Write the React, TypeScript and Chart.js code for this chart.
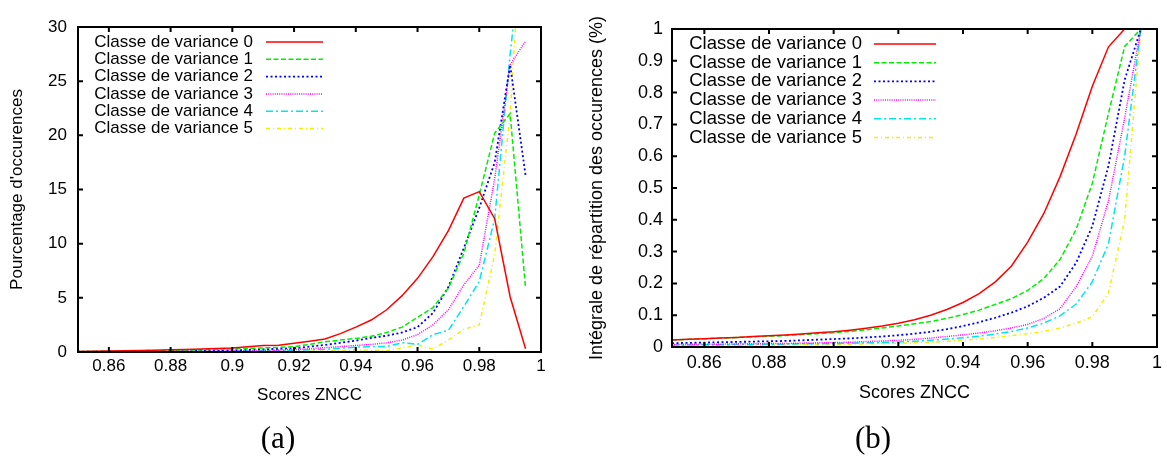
import React, { useEffect, useRef } from 'react';
import { Chart, registerables } from 'chart.js';

Chart.register(...registerables);

// ---------- data ----------
const binsZncc = [
  0.85, 0.855, 0.86, 0.865, 0.87, 0.875, 0.88, 0.885, 0.89, 0.895,
  0.9, 0.905, 0.91, 0.915, 0.92, 0.925, 0.93, 0.935, 0.94, 0.945,
  0.95, 0.955, 0.96, 0.965, 0.97, 0.975, 0.98, 0.985, 0.99, 0.995,
];

const seriesLabels = [
  'Classe de variance 0',
  'Classe de variance 1',
  'Classe de variance 2',
  'Classe de variance 3',
  'Classe de variance 4',
  'Classe de variance 5',
];

// (a) Pourcentage d'occurences
const histClass0 = [0.05, 0.07, 0.1, 0.12, 0.14, 0.17, 0.2, 0.23, 0.27, 0.32, 0.38, 0.48, 0.6, 0.63, 0.8, 1.0, 1.2, 1.7, 2.3, 2.95, 3.9, 5.2, 6.8, 8.8, 11.2, 14.2, 14.8, 12.3, 5.1, 0.3];
const histClass1 = [0.05, 0.06, 0.08, 0.1, 0.12, 0.14, 0.16, 0.18, 0.2, 0.25, 0.3, 0.33, 0.38, 0.42, 0.5, 0.7, 0.95, 1.1, 1.25, 1.45, 1.8, 2.3, 3.2, 4.1, 5.9, 9.1, 14.5, 20.2, 22.0, 5.9];
const histClass2 = [0.03, 0.04, 0.04, 0.05, 0.05, 0.06, 0.07, 0.08, 0.1, 0.12, 0.15, 0.2, 0.25, 0.3, 0.35, 0.5, 0.65, 0.85, 1.05, 1.3, 1.5, 1.8, 2.3, 3.6, 6.0, 9.6, 13.3, 17.5, 26.5, 16.3];
const histClass3 = [0.02, 0.02, 0.03, 0.03, 0.04, 0.04, 0.05, 0.06, 0.07, 0.08, 0.1, 0.12, 0.15, 0.18, 0.22, 0.3, 0.4, 0.5, 0.6, 0.7, 0.85, 1.1, 1.6, 2.5, 3.9, 6.2, 8.0, 16.0, 26.5, 28.7];
const histClass4 = [0.01, 0.01, 0.02, 0.02, 0.02, 0.03, 0.03, 0.04, 0.05, 0.05, 0.06, 0.08, 0.1, 0.12, 0.15, 0.2, 0.25, 0.35, 0.45, 0.5, 0.5, 0.85, 0.7, 1.6, 2.0, 4.2, 6.5, 12.3, 27.5, 40.0];
const histClass5 = [0.0, 0.0, 0.01, 0.01, 0.01, 0.01, 0.01, 0.02, 0.02, 0.02, 0.02, 0.03, 0.04, 0.05, 0.06, 0.08, 0.1, 0.12, 0.2, 0.15, 0.12, 0.4, 0.65, 0.28, 1.1, 2.1, 2.5, 9.0, 22.0, 45.0];

// (b) Intégrale de répartition des occurences
const cumClass0 = [0.022, 0.024, 0.026, 0.028, 0.03, 0.033, 0.035, 0.038, 0.041, 0.045, 0.048, 0.053, 0.059, 0.066, 0.075, 0.086, 0.1, 0.118, 0.14, 0.168, 0.205, 0.255, 0.33, 0.42, 0.535, 0.67, 0.82, 0.944, 1.0, 1.0];
const cumClass1 = [0.022, 0.024, 0.026, 0.028, 0.03, 0.032, 0.034, 0.036, 0.039, 0.042, 0.045, 0.049, 0.054, 0.06, 0.066, 0.073, 0.08, 0.09, 0.102, 0.116, 0.134, 0.152, 0.178, 0.215, 0.275, 0.37, 0.515, 0.735, 0.945, 1.0];
const cumClass2 = [0.012, 0.013, 0.014, 0.015, 0.016, 0.017, 0.018, 0.019, 0.021, 0.023, 0.025, 0.027, 0.03, 0.033, 0.037, 0.042, 0.048, 0.056, 0.066, 0.078, 0.092, 0.108, 0.128, 0.155, 0.19, 0.265, 0.38, 0.57, 0.84, 1.0];
const cumClass3 = [0.008, 0.008, 0.009, 0.009, 0.01, 0.01, 0.011, 0.011, 0.012, 0.013, 0.014, 0.015, 0.017, 0.019, 0.021, 0.024, 0.028, 0.033, 0.038, 0.044, 0.051, 0.06, 0.071, 0.09, 0.12, 0.19, 0.285, 0.46, 0.72, 1.0];
const cumClass4 = [0.006, 0.006, 0.007, 0.007, 0.008, 0.008, 0.009, 0.009, 0.01, 0.01, 0.011, 0.012, 0.013, 0.014, 0.016, 0.018, 0.021, 0.025, 0.029, 0.034, 0.041, 0.049, 0.06, 0.075, 0.098, 0.135, 0.205, 0.325, 0.6, 1.0];
const cumClass5 = [0.003, 0.003, 0.004, 0.004, 0.005, 0.005, 0.006, 0.006, 0.007, 0.007, 0.008, 0.009, 0.01, 0.011, 0.012, 0.013, 0.015, 0.018, 0.021, 0.025, 0.03, 0.036, 0.042, 0.049, 0.06, 0.075, 0.095, 0.17, 0.4, 1.0];

const xTicks = [0.86, 0.88, 0.9, 0.92, 0.94, 0.96, 0.98, 1];
const yTicksA = [0, 5, 10, 15, 20, 25, 30];
const yTicksB = [0, 0.1, 0.2, 0.3, 0.4, 0.5, 0.6, 0.7, 0.8, 0.9, 1];

const xAxisTitle = 'Scores ZNCC';
const yAxisTitleA = "Pourcentage d'occurences";
const yAxisTitleB = 'Intégrale de répartition des occurences (%)';

// ---------- styles ----------
const seriesColors = ['#ff0000', '#00ee00', '#0000ff', '#ff00ff', '#00e5ee', '#f0f000'];
const seriesDashes = [[], [5, 2.5], [2, 2.5], [1, 1.2], [7, 3, 2, 3], [4, 3, 1, 3]];
const seriesWidths = [1.5, 1.5, 1.8, 1.5, 1.5, 1.5];
const SANS = "'Liberation Sans', Arial, Helvetica, sans-serif";

const fmt = (v: number) => String(parseFloat(v.toFixed(3)));

const gnuFrame = {
  id: 'gnuFrame',
  afterDatasetsDraw(chart: any, _args: any, opts: any) {
    const { ctx, chartArea: a, scales } = chart;
    ctx.save();
    ctx.strokeStyle = '#000';
    ctx.lineWidth = 2;
    ctx.setLineDash([]);
    ctx.strokeRect(a.left, a.top, a.right - a.left, a.bottom - a.top);
    const tl = opts.tickLen;
    ctx.beginPath();
    scales.x.ticks.forEach((t: any) => {
      const px = scales.x.getPixelForValue(t.value);
      if (px <= a.left + 1 || px >= a.right - 1) return;
      ctx.moveTo(px, a.bottom);
      ctx.lineTo(px, a.bottom - tl);
      ctx.moveTo(px, a.top);
      ctx.lineTo(px, a.top + tl);
    });
    scales.y.ticks.forEach((t: any) => {
      const py = scales.y.getPixelForValue(t.value);
      if (py <= a.top + 1 || py >= a.bottom - 1) return;
      ctx.moveTo(a.left, py);
      ctx.lineTo(a.left + tl, py);
      ctx.moveTo(a.right, py);
      ctx.lineTo(a.right - tl, py);
    });
    ctx.stroke();

    // key (legend) inside the plot, text then line sample
    ctx.font = `${opts.keyFont}px ${SANS}`;
    ctx.textAlign = 'right';
    ctx.textBaseline = 'middle';
    chart.data.datasets.forEach((ds: any, i: number) => {
      const y = a.top + opts.keyTop + i * opts.keyRow;
      ctx.fillStyle = '#000';
      ctx.fillText(ds.label, a.left + opts.keyTextRight, y);
      ctx.strokeStyle = ds.borderColor;
      ctx.lineWidth = ds.borderWidth;
      ctx.setLineDash(ds.borderDash || []);
      ctx.beginPath();
      ctx.moveTo(a.left + opts.keyLine0, y);
      ctx.lineTo(a.left + opts.keyLine1, y);
      ctx.stroke();
    });
    ctx.restore();
  },
};

type Spec = {
  series: number[][];
  yMax: number;
  yTicks: number[];
  yTitle: string;
  font: number;
  padding: { left: number; top: number; right: number; bottom: number };
  yWidth: number;
  xHeight: number;
  xTickPad: number;
  yTickPad: number;
  yTitlePad: number;
  key: any;
};

function buildConfig(spec: Spec): any {
  return {
    type: 'line',
    data: {
      datasets: spec.series.map((vals, i) => ({
        label: seriesLabels[i],
        data: binsZncc.map((x, j) => ({ x, y: vals[j] })),
        borderColor: seriesColors[i],
        borderDash: seriesDashes[i],
        borderWidth: seriesWidths[i],
        pointRadius: 0,
        fill: false,
        tension: 0,
      })),
    },
    options: {
      responsive: false,
      animation: false,
      maintainAspectRatio: false,
      layout: { padding: spec.padding },
      plugins: {
        legend: { display: false },
        tooltip: { enabled: false },
        gnuFrame: { tickLen: 5, ...spec.key },
      },
      scales: {
        x: {
          type: 'linear',
          min: 0.85,
          max: 1,
          grid: { display: false, drawTicks: false },
          border: { display: false },
          afterBuildTicks: (s: any) => {
            s.ticks = xTicks.map((v) => ({ value: v }));
          },
          afterFit: (s: any) => {
            s.height = spec.xHeight;
          },
          ticks: {
            color: '#000',
            font: { family: SANS, size: spec.font },
            padding: spec.xTickPad,
            maxRotation: 0,
            autoSkip: false,
            callback: (v: any) => fmt(Number(v)),
          },
          title: {
            display: true,
            text: xAxisTitle,
            color: '#000',
            font: { family: SANS, size: spec.font },
            padding: { top: 0, bottom: 0 },
          },
        },
        y: {
          type: 'linear',
          min: 0,
          max: spec.yMax,
          grid: { display: false, drawTicks: false },
          border: { display: false },
          afterBuildTicks: (s: any) => {
            s.ticks = spec.yTicks.map((v) => ({ value: v }));
          },
          afterFit: (s: any) => {
            s.width = spec.yWidth;
          },
          ticks: {
            color: '#000',
            font: { family: SANS, size: spec.font },
            padding: spec.yTickPad,
            autoSkip: false,
            callback: (v: any) => fmt(Number(v)),
          },
          title: {
            display: true,
            text: spec.yTitle,
            color: '#000',
            font: { family: SANS, size: spec.font },
            padding: { top: spec.yTitlePad, bottom: 0 },
          },
        },
      },
    },
    plugins: [gnuFrame],
  };
}

function GnuChart({ spec, width, height, left }: { spec: Spec; width: number; height: number; left: number }) {
  const ref = useRef<HTMLCanvasElement | null>(null);
  useEffect(() => {
    if (!ref.current) return;
    const chart = new Chart(ref.current, buildConfig(spec));
    return () => chart.destroy();
  }, []);
  return (
    <canvas
      ref={ref}
      width={width}
      height={height}
      style={{ position: 'absolute', left, top: 0, width, height, display: 'block' }}
    />
  );
}

const specA: Spec = {
  series: [histClass0, histClass1, histClass2, histClass3, histClass4, histClass5],
  yMax: 30,
  yTicks: yTicksA,
  yTitle: yAxisTitleA,
  font: 17,
  padding: { left: 0, top: 27, right: 42, bottom: 14 },
  yWidth: 78,
  xHeight: 54,
  xTickPad: 4,
  yTickPad: 11,
  yTitlePad: 7,
  key: { keyFont: 17, keyTop: 15, keyRow: 17.3, keyTextRight: 175, keyLine0: 188, keyLine1: 245 },
};

const specB: Spec = {
  series: [cumClass0, cumClass1, cumClass2, cumClass3, cumClass4, cumClass5],
  yMax: 1,
  yTicks: yTicksB,
  yTitle: yAxisTitleB,
  font: 18,
  padding: { left: 0, top: 29, right: 7, bottom: 16 },
  yWidth: 89,
  xHeight: 57,
  xTickPad: 5,
  yTickPad: 9,
  yTitlePad: 3,
  key: { keyFont: 18.5, keyTop: 15, keyRow: 18.7, keyTextRight: 190, keyLine0: 202, keyLine1: 264 },
};

export default function App() {
  const capStyle: React.CSSProperties = {
    position: 'absolute',
    top: 437,
    transform: 'translate(-50%, -50%)',
    fontFamily: "'Liberation Serif', 'DejaVu Serif', serif",
    fontSize: 31,
    color: '#000',
    lineHeight: 1,
    whiteSpace: 'nowrap',
  };
  return (
    <div style={{ position: 'absolute', left: 0, top: 0, width: 1167, height: 457, background: '#fff', overflow: 'hidden' }}>
      <GnuChart spec={specA} width={583} height={420} left={0} />
      <GnuChart spec={specB} width={584} height={420} left={583} />
      <div style={{ ...capStyle, left: 278 }}>(a)</div>
      <div style={{ ...capStyle, left: 873 }}>(b)</div>
    </div>
  );
}
